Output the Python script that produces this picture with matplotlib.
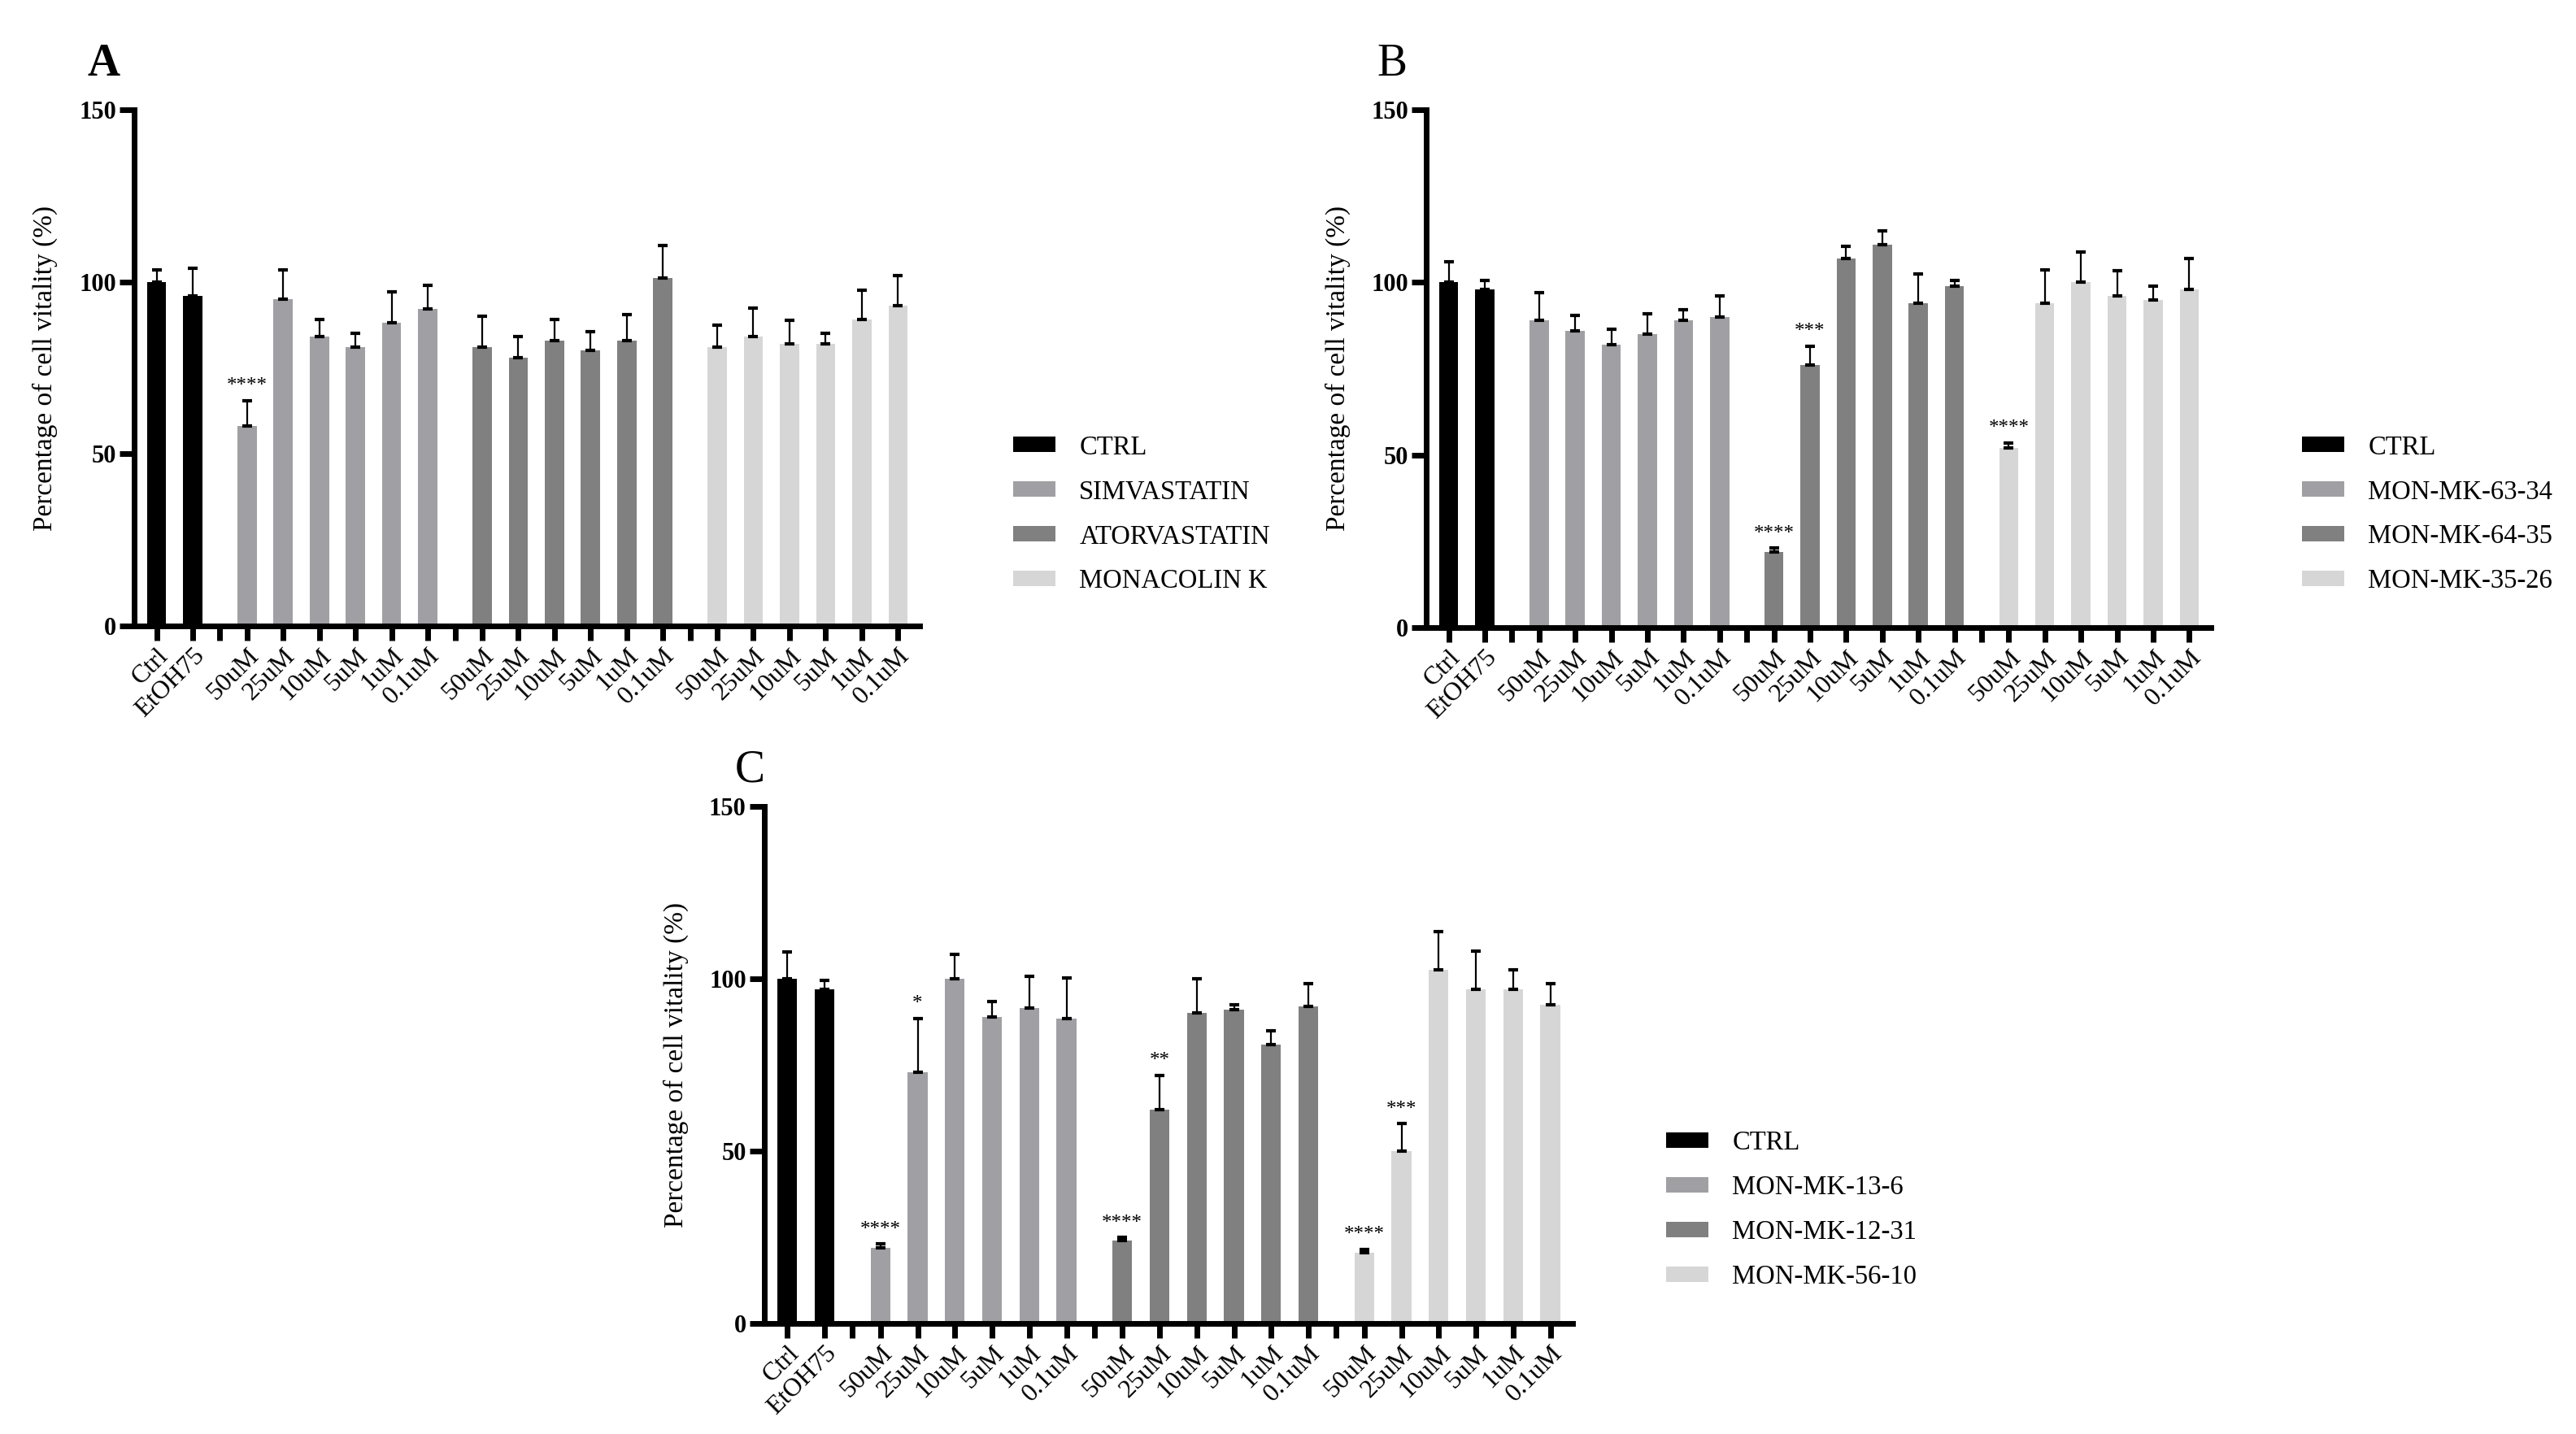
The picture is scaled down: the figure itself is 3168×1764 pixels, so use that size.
import numpy as np
import matplotlib.pyplot as plt
from matplotlib.transforms import ScaledTranslation

plt.rcParams['font.family'] = ['Liberation Serif', 'DejaVu Serif']

conc = ['50uM', '25uM', '10uM', '5uM', '1uM', '0.1uM']
ctrl_labels = ['Ctrl', 'EtOH75']
colors = ['#000000', '#a0a0a4', '#808080', '#d6d6d6']

# panel A
a_names = ['CTRL', 'SIMVASTATIN', 'ATORVASTATIN', 'MONACOLIN K']
a_ctrl = [100, 96]
a_ctrl_err = [3.5, 8]
a_vals = [[58, 95, 84, 81, 88, 92],
          [81, 78, 83, 80, 83, 101],
          [81, 84, 82, 82, 89, 93]]
a_errs = [[7.5, 8.5, 5, 4, 9, 7],
          [9, 6, 6, 5.5, 7.5, 9.5],
          [6.5, 8.3, 6.7, 3, 8.5, 8.7]]
a_stars = [['****', '', '', '', '', ''],
           ['', '', '', '', '', ''],
           ['', '', '', '', '', '']]

# panel B
b_names = ['CTRL', 'MON-MK-63-34', 'MON-MK-64-35', 'MON-MK-35-26']
b_ctrl = [100, 98]
b_ctrl_err = [6, 2.5]
b_vals = [[89, 86, 82, 85, 89, 90],
          [22, 76, 107, 111, 94, 99],
          [52, 94, 100, 96, 95, 98]]
b_errs = [[8, 4.5, 4.5, 5.8, 3, 6],
          [1, 5.5, 3.5, 4, 8.5, 1.5],
          [1.5, 9.5, 8.8, 7.3, 3.8, 8.8]]
b_stars = [['', '', '', '', '', ''],
           ['****', '***', '', '', '', ''],
           ['****', '', '', '', '', '']]

# panel C
c_names = ['CTRL', 'MON-MK-13-6', 'MON-MK-12-31', 'MON-MK-56-10']
c_ctrl = [100, 97]
c_ctrl_err = [7.7, 2.5]
c_vals = [[22, 73, 100, 89, 91.5, 88.5],
          [24, 62, 90, 91, 81, 92],
          [20.5, 50, 102.5, 97, 97, 92.5]]
c_errs = [[1, 15.5, 7, 4.5, 9.2, 11.8],
          [1, 10, 10, 1.5, 4, 6.6],
          [1, 8, 11.2, 11, 5.5, 6]]
c_stars = [['****', '*', '', '', '', ''],
           ['****', '**', '', '', '', ''],
           ['****', '***', '', '', '', '']]


def draw_panel(ax, names, ctrl, ctrl_err, vals, errs, stars, legend_at, ylab_x):
    width = 0.53
    ctrl_x = np.array([0, 1])
    group_start = [2.5, 9, 15.5]
    gap_ticks = [1.75, 8.25, 14.75]

    h = [ax.bar(ctrl_x, ctrl, width, color=colors[0], label=names[0])]
    ax.errorbar(ctrl_x, ctrl, yerr=[np.zeros(2), ctrl_err], fmt='none',
                ecolor='black', elinewidth=1.6, capsize=4, capthick=3)

    ticks = list(ctrl_x)
    labels = list(ctrl_labels)
    for i in range(3):
        x = group_start[i] + np.arange(6)
        h.append(ax.bar(x, vals[i], width, color=colors[i + 1], label=names[i + 1]))
        ax.errorbar(x, vals[i], yerr=[np.zeros(6), errs[i]], fmt='none',
                    ecolor='black', elinewidth=1.6, capsize=4, capthick=3)
        for xi, v, e, s in zip(x, vals[i], errs[i], stars[i]):
            if s:
                ax.text(xi, v + e + 1.5, s, ha='center', va='bottom', fontsize=18)
        ticks += [gap_ticks[i]] + list(x)
        labels += [''] + conc

    ax.set_xlim(-0.62, 21.1)
    ax.set_ylim(0, 150)
    ax.set_yticks([0, 50, 100, 150])
    ax.set_xticks(ticks)
    ax.set_xticklabels(labels, rotation=45, ha='right', va='top',
                       rotation_mode='anchor', fontsize=23)
    off = ScaledTranslation(5 / 72, -6 / 72, ax.figure.dpi_scale_trans)
    for lab in ax.get_xticklabels():
        lab.set_transform(lab.get_transform() + off)
    for lab in ax.get_yticklabels():
        lab.set_fontweight('bold')
        lab.set_fontsize(22)

    for sp in ['top', 'right']:
        ax.spines[sp].set_visible(False)
    for sp in ['left', 'bottom']:
        ax.spines[sp].set_linewidth(5)
    ax.tick_params(axis='both', length=13, width=5, pad=3)

    ax.set_ylabel('Percentage of cell vitality (%)', fontsize=24)
    ax.yaxis.set_label_coords(ylab_x, 0.5)

    ax.legend(handles=h, loc='upper left', bbox_to_anchor=legend_at,
              bbox_transform=ax.figure.transFigure, frameon=False,
              fontsize=23.5, handlelength=1.6, handleheight=0.52,
              handletextpad=0.89, labelspacing=0.75,
              borderpad=0, borderaxespad=0)


fig = plt.figure(figsize=(31.68, 17.64), dpi=100)

ax_a = fig.add_axes([0.0521, 0.5635, 0.3049, 0.36])
ax_b = fig.add_axes([0.5537, 0.5624, 0.3046, 0.3611])
ax_c = fig.add_axes([0.2967, 0.0771, 0.3138, 0.3605])

draw_panel(ax_a, a_names, a_ctrl, a_ctrl_err, a_vals, a_errs, a_stars, (0.3933, 0.6967), -0.097)
draw_panel(ax_b, b_names, b_ctrl, b_ctrl_err, b_vals, b_errs, b_stars, (0.8936, 0.6967), -0.096)
draw_panel(ax_c, c_names, c_ctrl, c_ctrl_err, c_vals, c_errs, c_stars, (0.6468, 0.2115), -0.093)

fig.text(107 / 3168, 1 - 93 / 1764, 'A', fontsize=40, fontweight='bold', va='baseline')
fig.text(1693 / 3168, 1 - 93 / 1764, 'B', fontsize=40, va='baseline')
fig.text(904 / 3168, 1 - 962 / 1764, 'C', fontsize=40, va='baseline')

fig.savefig('out.png', dpi=100)
